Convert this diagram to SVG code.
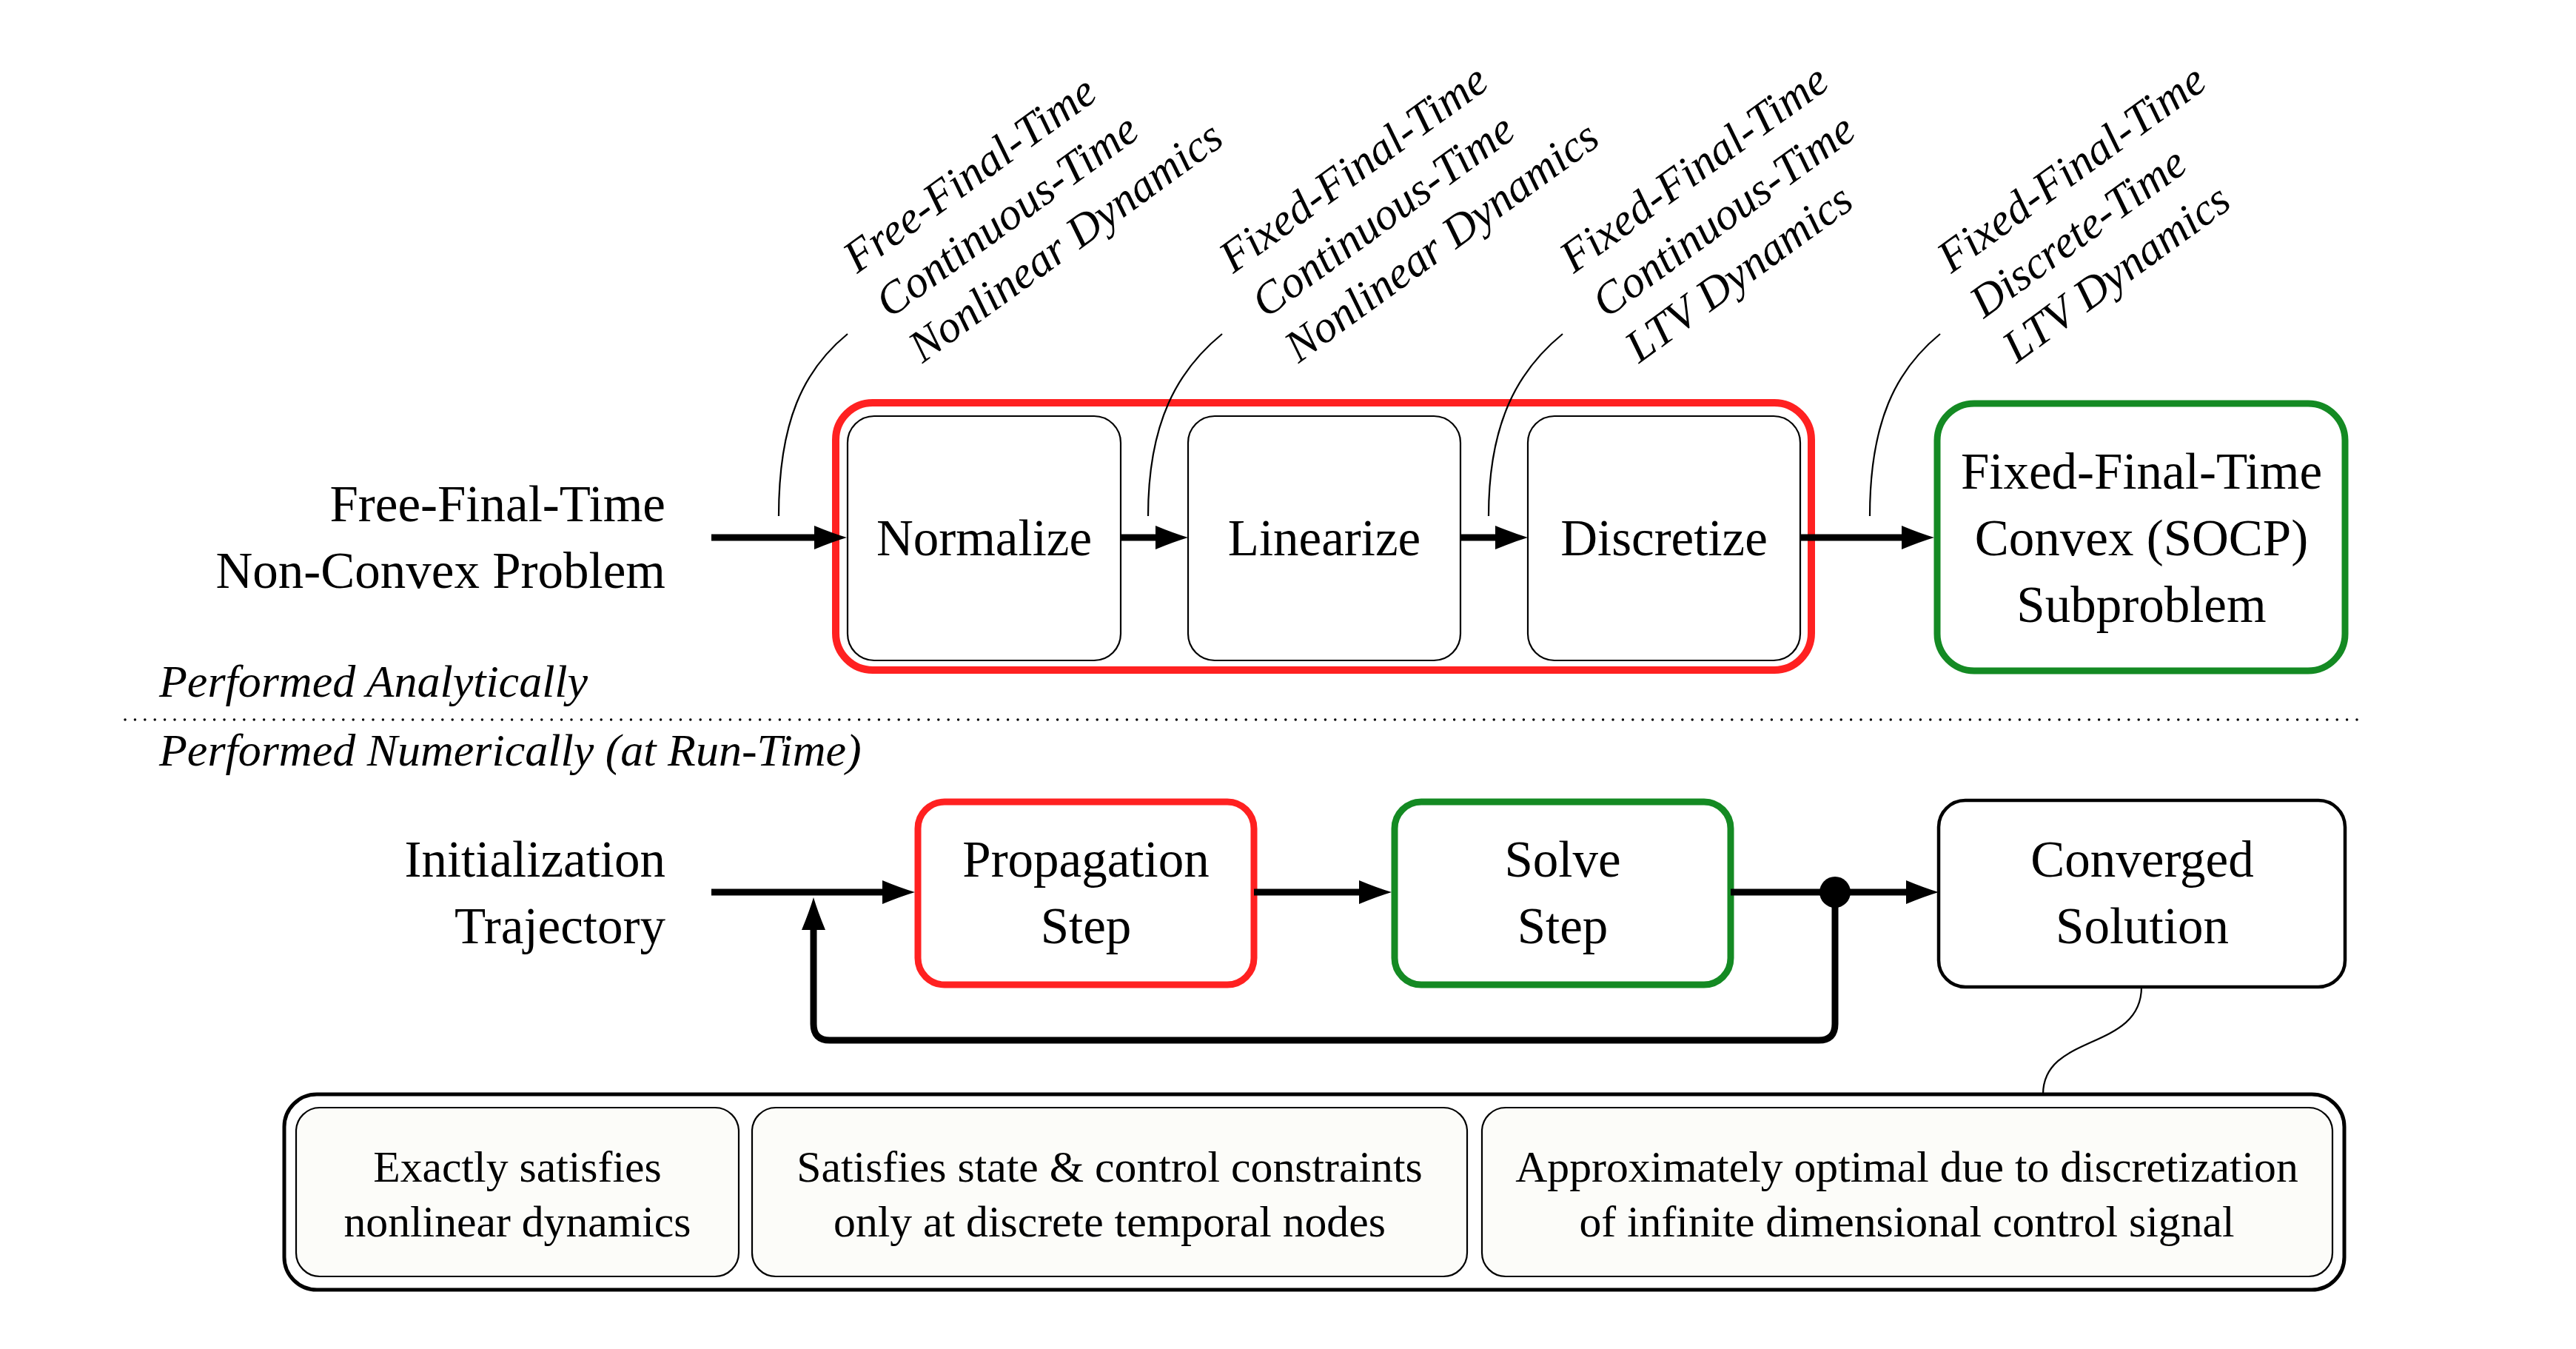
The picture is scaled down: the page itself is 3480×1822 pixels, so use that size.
<svg xmlns="http://www.w3.org/2000/svg" width="3480" height="1822" viewBox="0 0 3480 1822">
<defs>
<marker id="arr" markerUnits="userSpaceOnUse" viewBox="0 0 44 32" refX="4" refY="16" markerWidth="44" markerHeight="32" orient="auto">
<path d="M44,16 Q24,10 0,0 L0,32 Q24,22 44,16 Z" fill="#000"/>
</marker>
<style>
text{font-family:'Liberation Serif','DejaVu Serif',serif;fill:#000}
.t{font-size:69px}
.c{text-anchor:middle}
.e{text-anchor:end}
.i{font-style:italic;font-size:61px}
.p{font-style:italic;font-size:62px}
.s{font-size:59.7px;text-anchor:middle}
.thin{fill:#fff;stroke:#000;stroke-width:2.2}
.red{fill:#fff;stroke:#ff2121;stroke-width:10}
.grn{fill:#fff;stroke:#148a23;stroke-width:9}
.blk{fill:#fff;stroke:#000;stroke-width:4.5}
.note{fill:#fcfcf9;stroke:#000;stroke-width:2.2}
.ar{fill:none;stroke:#000;stroke-width:9;marker-end:url(#arr)}
.ann{fill:none;stroke:#000;stroke-width:2.2}
</style>
</defs>
<rect width="3480" height="1822" fill="#fff"/>

<g id="input-top">
<text class="t e" x="899" y="704">Free-Final-Time</text>
<text class="t e" x="899" y="794">Non-Convex Problem</text>
</g>

<g id="analytic-group">
<rect class="red" x="1129" y="544" width="1318" height="361" rx="50"/>
</g>
<g id="normalize">
<rect class="thin" x="1145" y="562" width="369" height="330" rx="36"/>
<text class="t c" x="1329.5" y="750">Normalize</text>
</g>
<g id="linearize">
<rect class="thin" x="1605" y="562" width="368" height="330" rx="36"/>
<text class="t c" x="1789" y="750">Linearize</text>
</g>
<g id="discretize">
<rect class="thin" x="2064" y="562" width="368" height="330" rx="36"/>
<text class="t c" x="2248" y="750">Discretize</text>
</g>
<g id="subproblem">
<rect class="grn" x="2617" y="545" width="551" height="361" rx="50"/>
<text class="t c" x="2893" y="660">Fixed-Final-Time</text>
<text class="t c" x="2893" y="750">Convex (SOCP)</text>
<text class="t c" x="2893" y="840">Subproblem</text>
</g>

<g id="label-1" transform="translate(1158,370) rotate(-36)">
<text class="i" x="0" y="0">Free-Final-Time</text>
<text class="i" x="0" y="75">Continuous-Time</text>
<text class="i" x="0" y="150">Nonlinear Dynamics</text>
</g>
<g id="label-2" transform="translate(1666,370) rotate(-36)">
<text class="i" x="0" y="0">Fixed-Final-Time</text>
<text class="i" x="0" y="75">Continuous-Time</text>
<text class="i" x="0" y="150">Nonlinear Dynamics</text>
</g>
<g id="label-3" transform="translate(2126,370) rotate(-36)">
<text class="i" x="0" y="0">Fixed-Final-Time</text>
<text class="i" x="0" y="75">Continuous-Time</text>
<text class="i" x="0" y="150">LTV Dynamics</text>
</g>
<g id="label-4" transform="translate(2636,370) rotate(-36)">
<text class="i" x="0" y="0">Fixed-Final-Time</text>
<text class="i" x="0" y="75">Discrete-Time</text>
<text class="i" x="0" y="150">LTV Dynamics</text>
</g>

<g id="separator">
<text class="p" x="215" y="941">Performed Analytically</text>
<line x1="169" y1="972" x2="3196" y2="972" stroke="#000" stroke-width="3.5" stroke-linecap="round" stroke-dasharray="0 13.4"/>
<text class="p" x="215" y="1034">Performed Numerically (at Run-Time)</text>
</g>

<g id="input-bottom">
<text class="t e" x="899" y="1184">Initialization</text>
<text class="t e" x="899" y="1274">Trajectory</text>
</g>
<g id="propagation">
<rect class="red" x="1240" y="1083" width="454" height="247" rx="36" style="stroke-width:9"/>
<text class="t c" x="1467" y="1184">Propagation</text>
<text class="t c" x="1467" y="1274">Step</text>
</g>
<g id="solve">
<rect class="grn" x="1884" y="1083" width="454" height="247" rx="36"/>
<text class="t c" x="2111" y="1184">Solve</text>
<text class="t c" x="2111" y="1274">Step</text>
</g>
<g id="converged">
<rect class="blk" x="2619" y="1081" width="549" height="252" rx="36"/>
<text class="t c" x="2894" y="1184">Converged</text>
<text class="t c" x="2894" y="1274">Solution</text>
</g>

<g id="properties">
<rect x="384" y="1478" width="2783" height="264" rx="44" fill="#fff" stroke="#000" stroke-width="5"/>
<g id="prop-1">
<rect class="note" x="400" y="1496" width="598" height="228" rx="32"/>
<text class="s" x="699" y="1596">Exactly satisfies</text>
<text class="s" x="699" y="1670">nonlinear dynamics</text>
</g>
<g id="prop-2">
<rect class="note" x="1016" y="1496" width="966" height="228" rx="32"/>
<text class="s" x="1499" y="1596">Satisfies state &amp; control constraints</text>
<text class="s" x="1499" y="1670">only at discrete temporal nodes</text>
</g>
<g id="prop-3">
<rect class="note" x="2002" y="1496" width="1149" height="228" rx="32"/>
<text class="s" x="2576" y="1596">Approximately optimal due to discretization</text>
<text class="s" x="2576" y="1670">of infinite dimensional control signal</text>
</g>
</g>

<g id="connectors">
<path class="ar" d="M961,726 L1104,726"/>
<path class="ar" d="M1514,726 L1565,726"/>
<path class="ar" d="M1973,726 L2024,726"/>
<path class="ar" d="M2432,726 L2573,726"/>
<path class="ann" d="M1052,697 C1052,570 1085,500 1145,451"/>
<path class="ann" d="M1551,697 C1551,570 1591,500 1651,451"/>
<path class="ann" d="M2011,697 C2011,570 2051,500 2111,451"/>
<path class="ann" d="M2526,697 C2526,570 2561,500 2621,451"/>
<path class="ar" d="M961,1205 L1196,1205"/>
<path class="ar" d="M1694,1205 L1840,1205"/>
<path class="ar" d="M2338,1205 L2579,1205"/>
<path class="ar" d="M2479,1205 L2479,1383 Q2479,1405 2457,1405 L1121,1405 Q1099,1405 1099,1383 L1099,1252"/>
<circle cx="2479" cy="1205" r="21" fill="#000"/>
<path class="ann" d="M2893,1333 C2893,1420 2760,1395 2760,1478"/>
</g>
</svg>
